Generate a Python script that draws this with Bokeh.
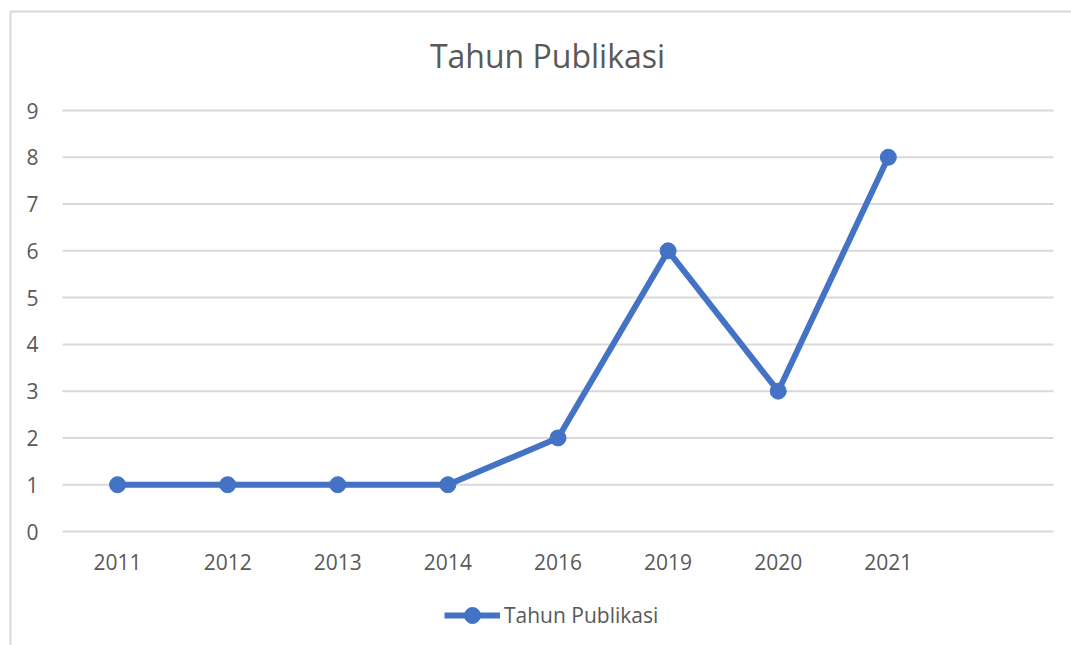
from bokeh.plotting import figure
from bokeh.models import (Range1d, FixedTicker, Legend, LegendItem, PolyAnnotation,
                          ColumnDataSource, Label)
from bokeh.embed import file_html
from bokeh.resources import INLINE

years = ["2011", "2012", "2013", "2014", "2016", "2019", "2020", "2021"]
counts = [1, 1, 1, 1, 2, 6, 3, 8]
y_ticks = [0, 1, 2, 3, 4, 5, 6, 7, 8, 9]
series_name = "Tahun Publikasi"
title_text = "Tahun Publikasi"

FONT = "Open Sans"
TXT = "#595959"
BLUE = "#4472C4"
GRID = "#D9D9D9"

W, H = 1071, 645
# plot-area geometry in pixels (layout only)
PX_LEFT, PX_RIGHT, PX_Y0, PX_YTOP = 62, 1053, 531, 110
n_slots = len(years) + 1
x_lo, x_hi = -0.5, n_slots - 0.5
ppx = (PX_RIGHT - PX_LEFT) / (x_hi - x_lo)
y_top = y_ticks[-1]
ppy = (PX_Y0 - PX_YTOP) / y_top

x_start = x_lo - PX_LEFT / ppx
x_end = x_lo + (W - PX_LEFT) / ppx
y_start = -(H - PX_Y0) / ppy
y_end = PX_Y0 / ppy

xs = list(range(len(years)))
src = ColumnDataSource(dict(x=xs, y=counts))

p = figure(
    width=W, height=H, min_border=0,
    x_range=Range1d(x_start, x_end), y_range=Range1d(y_start, y_end),
    output_backend="svg", toolbar_location=None,
    background_fill_color="white", border_fill_color="white",
)
p.outline_line_color = None
p.xgrid.grid_line_color = None
p.ygrid.grid_line_color = None

# horizontal gridlines across the plot area only
p.segment(x0=[x_lo] * len(y_ticks), x1=[x_hi] * len(y_ticks), y0=y_ticks, y1=y_ticks,
          line_color=GRID, line_width=2)

ln = p.line("x", "y", source=src, line_color=BLUE, line_width=6, line_join="round")
sc = p.scatter("x", "y", source=src, size=16, fill_color=BLUE, line_color=BLUE)

p.xaxis.ticker = FixedTicker(ticks=xs)
p.xaxis.major_label_overrides = {i: y for i, y in zip(xs, years)}
p.xaxis.fixed_location = 0
p.yaxis.ticker = FixedTicker(ticks=y_ticks)
p.yaxis.fixed_location = x_lo
for ax in (p.xaxis, p.yaxis):
    ax.axis_line_color = None
    ax.major_tick_line_color = None
    ax.minor_tick_line_color = None
    ax.major_label_text_font = FONT
    ax.major_label_text_font_size = "21px"
    ax.major_label_text_color = TXT
p.xaxis.major_label_standoff = 16
p.yaxis.major_label_standoff = 18

title = Label(x=x_lo + (547 - PX_LEFT) / ppx, y=(PX_Y0 - 55) / ppy, text=title_text,
              text_font=FONT, text_font_size="32px", text_color=TXT,
              text_align="center", text_baseline="alphabetic")
p.add_layout(title)

legend = Legend(items=[LegendItem(label=series_name, renderers=[ln, sc])],
                orientation="horizontal", location=(444, 10))
legend.label_text_font = FONT
legend.label_text_font_size = "21px"
legend.label_text_color = TXT
legend.glyph_width = 56
legend.glyph_height = 40
legend.label_standoff = 4
legend.border_line_color = None
legend.background_fill_alpha = 0
legend.padding = 0
legend.margin = 0
p.add_layout(legend, "center")

border = PolyAnnotation(xs=[10, 10, 1200, 1200], ys=[900, 11, 11, 900],
                        xs_units="canvas", ys_units="canvas",
                        fill_alpha=0, line_color=GRID, line_alpha=1.0, line_width=2)
p.add_layout(border)

open("out.html", "w").write(file_html(p, INLINE))
